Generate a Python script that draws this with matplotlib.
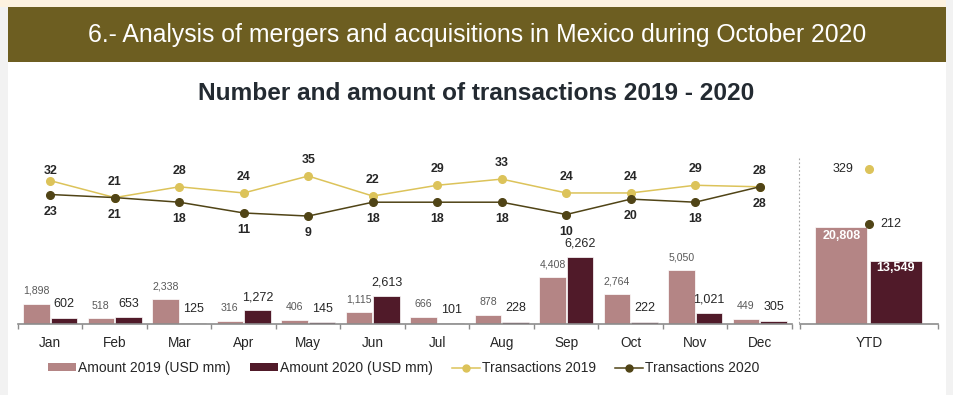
import matplotlib
matplotlib.use('Agg')
import matplotlib.pyplot as plt
from matplotlib.patches import Rectangle, Patch
from matplotlib.lines import Line2D
import numpy as np

# ---------------- data ----------------
months = ['Jan', 'Feb', 'Mar', 'Apr', 'May', 'Jun', 'Jul', 'Aug', 'Sep', 'Oct', 'Nov', 'Dec']
amount_2019 = [1898, 518, 2338, 316, 406, 1115, 666, 878, 4408, 2764, 5050, 449]
amount_2020 = [602, 653, 125, 1272, 145, 2613, 101, 228, 6262, 222, 1021, 305]
trans_2019 = [32, 21, 28, 24, 35, 22, 29, 33, 24, 24, 29, 28]
trans_2020 = [23, 21, 18, 11, 9, 18, 18, 18, 10, 20, 18, 28]
ytd_label = 'YTD'
ytd_amount = [20808, 13549]
ytd_trans = [329, 212]

banner_title = '6.- Analysis of mergers and acquisitions in Mexico during October 2020'
chart_title = 'Number and amount of transactions 2019 - 2020'
legend_labels = ['Amount 2019 (USD mm)', 'Amount 2020 (USD mm)', 'Transactions 2019', 'Transactions 2020']

# ---------------- style ----------------
plt.rcParams['font.family'] = ['Liberation Sans', 'DejaVu Sans']
C19 = '#b48585'
C20 = '#501a29'
L19 = '#dcc35a'
L20 = '#504416'
TXT = '#262626'
GRAY_TXT = '#595959'
AXC = '#8c8c8c'

W, H = 954, 395
fig = plt.figure(figsize=(W / 100, H / 100), dpi=100)
fig.patch.set_facecolor('white')


def fx(px):
    return px / W


def fy(py):
    return 1 - py / H


# background strips and banner
fig.add_artist(Rectangle((0, fy(7)), fx(946), 7 / H, transform=fig.transFigure,
                         facecolor='#fdf2e0', edgecolor='none', zorder=0))
fig.add_artist(Rectangle((fx(946), 0), fx(8), 1, transform=fig.transFigure,
                         facecolor='#f2f2f2', edgecolor='none', zorder=0))
fig.add_artist(Rectangle((0, 0), fx(8), fy(7), transform=fig.transFigure,
                         facecolor='#f2f2f2', edgecolor='none', zorder=0))
fig.add_artist(Rectangle((fx(8), fy(62)), fx(938), 55 / H, transform=fig.transFigure,
                         facecolor='#6d5e21', edgecolor='none', zorder=0))
fig.text(fx(477), fy(35), banner_title, ha='center', va='center', color='white', fontsize=17.8)
fig.text(fx(476), fy(94), chart_title, ha='center', va='center', color='#232a31',
         fontsize=17.6, fontweight='bold')

# ---------------- monthly axes ----------------
AX_TOP, AX_BOT = 150, 324
ax = fig.add_axes([fx(18), fy(AX_BOT), fx(792 - 18), (AX_BOT - AX_TOP) / H])
ax.set_facecolor('none')
x = np.arange(len(months))
ax.set_xlim(-0.5, len(months) - 0.5)
ax.set_ylim(0, 16270)
bw = 0.41
ax.bar(x - 0.215, amount_2019, bw, color=C19, edgecolor='white', linewidth=0.5)
ax.bar(x + 0.215, amount_2020, bw, color=C20, edgecolor='white', linewidth=0.5)
for xi, v in zip(x, amount_2019):
    ax.annotate(f'{v:,}', (xi - 0.215, v), xytext=(0, 9.2), textcoords='offset points',
                ha='center', va='center', fontsize=7.6, color=GRAY_TXT)
for xi, v in zip(x, amount_2020):
    ax.annotate(f'{v:,}', (xi + 0.215, v), xytext=(0, 9.6), textcoords='offset points',
                ha='center', va='center', fontsize=9, color=TXT)

for s in ['left', 'top', 'right']:
    ax.spines[s].set_visible(False)
ax.spines['bottom'].set_color(AXC)
ax.spines['bottom'].set_linewidth(1.2)
ax.set_yticks([])
ax.set_xticks(x)
ax.set_xticklabels(months, fontsize=9.8, color=TXT)
ax.set_xticks(np.arange(-0.5, len(months)), minor=True)
ax.tick_params(axis='x', which='major', length=0, pad=8.5)
ax.tick_params(axis='x', which='minor', length=3.5, width=1, color=AXC, direction='out')

ax2 = ax.twinx()
ax2.set_ylim(-61.1, 51.9)
ax2.set_axis_off()
ax2.plot(x, trans_2019, color=L19, lw=1.1, marker='o', ms=5.5, zorder=3)
ax2.plot(x, trans_2020, color=L20, lw=1.1, marker='o', ms=5.5, zorder=4)
for i, v in enumerate(trans_2019):
    off = 7.2 if i == 0 else 11.5
    ax2.annotate(str(v), (i, v), xytext=(0, off), textcoords='offset points',
                 ha='center', va='center', fontsize=8.9, fontweight='bold', color=TXT)
for i, v in enumerate(trans_2020):
    ax2.annotate(str(v), (i, v), xytext=(0, -12.3), textcoords='offset points',
                 ha='center', va='center', fontsize=8.9, fontweight='bold', color=TXT)

# separator
fig.add_artist(Line2D([fx(799), fx(799)], [fy(158), fy(AX_BOT)], transform=fig.transFigure,
                      color='#a6a6a6', lw=0.8, ls=(0, (1.5, 2))))

# ---------------- YTD axes ----------------
ay = fig.add_axes([fx(800), fy(AX_BOT), fx(138), (AX_BOT - AX_TOP) / H])
ay.set_facecolor('none')
ay.set_xlim(-0.5, 0.5)
ay.set_ylim(0, 37410)
ay.bar([-0.2], [ytd_amount[0]], 0.377, color=C19, edgecolor='white', linewidth=0.5)
ay.bar([0.195], [ytd_amount[1]], 0.377, color=C20, edgecolor='white', linewidth=0.5)
ay.annotate(f'{ytd_amount[0]:,}', (-0.2, ytd_amount[0]), xytext=(0, -6), textcoords='offset points',
            ha='center', va='center', fontsize=9, fontweight='bold', color='white')
ay.annotate(f'{ytd_amount[1]:,}', (0.195, ytd_amount[1]), xytext=(0, -5.3), textcoords='offset points',
            ha='center', va='center', fontsize=9, fontweight='bold', color='white')
for s in ['left', 'top', 'right']:
    ay.spines[s].set_visible(False)
ay.spines['bottom'].set_color(AXC)
ay.spines['bottom'].set_linewidth(1.2)
ay.set_yticks([])
ay.set_xticks([0])
ay.set_xticklabels([ytd_label], fontsize=9.8, color=TXT)
ay.set_xticks([-0.5, 0.5], minor=True)
ay.tick_params(axis='x', which='major', length=0, pad=8.5)
ay.tick_params(axis='x', which='minor', length=3.5, width=1, color=AXC, direction='out')

ay2 = ay.twinx()
ay2.set_ylim(0, 370)
ay2.set_axis_off()
ay2.plot([0], [ytd_trans[0]], ls='none', marker='o', ms=5.5, color=L19)
ay2.plot([0], [ytd_trans[1]], ls='none', marker='o', ms=5.5, color=L20)
ay2.annotate(str(ytd_trans[0]), (0, ytd_trans[0]), xytext=(-11.5, 0), textcoords='offset points',
             ha='right', va='center', fontsize=9, color=TXT)
ay2.annotate(str(ytd_trans[1]), (0, ytd_trans[1]), xytext=(8.5, 0), textcoords='offset points',
             ha='left', va='center', fontsize=9, color=TXT)

# ---------------- legend ----------------
handles = [Patch(facecolor=C19, edgecolor='none'),
           Patch(facecolor=C20, edgecolor='none'),
           Line2D([], [], color=L19, lw=1.1, marker='o', ms=5),
           Line2D([], [], color=L20, lw=1.1, marker='o', ms=5)]
leg = fig.legend(handles, legend_labels, loc='center left', bbox_to_anchor=(fx(48), fy(368)),
                 ncol=4, frameon=False, fontsize=10, handlelength=2.0, handletextpad=0.15,
                 columnspacing=1.4, borderpad=0, borderaxespad=0, handleheight=0.45)
for t in leg.get_texts():
    t.set_color(TXT)

fig.savefig('out.png', dpi=100, facecolor=fig.get_facecolor())
